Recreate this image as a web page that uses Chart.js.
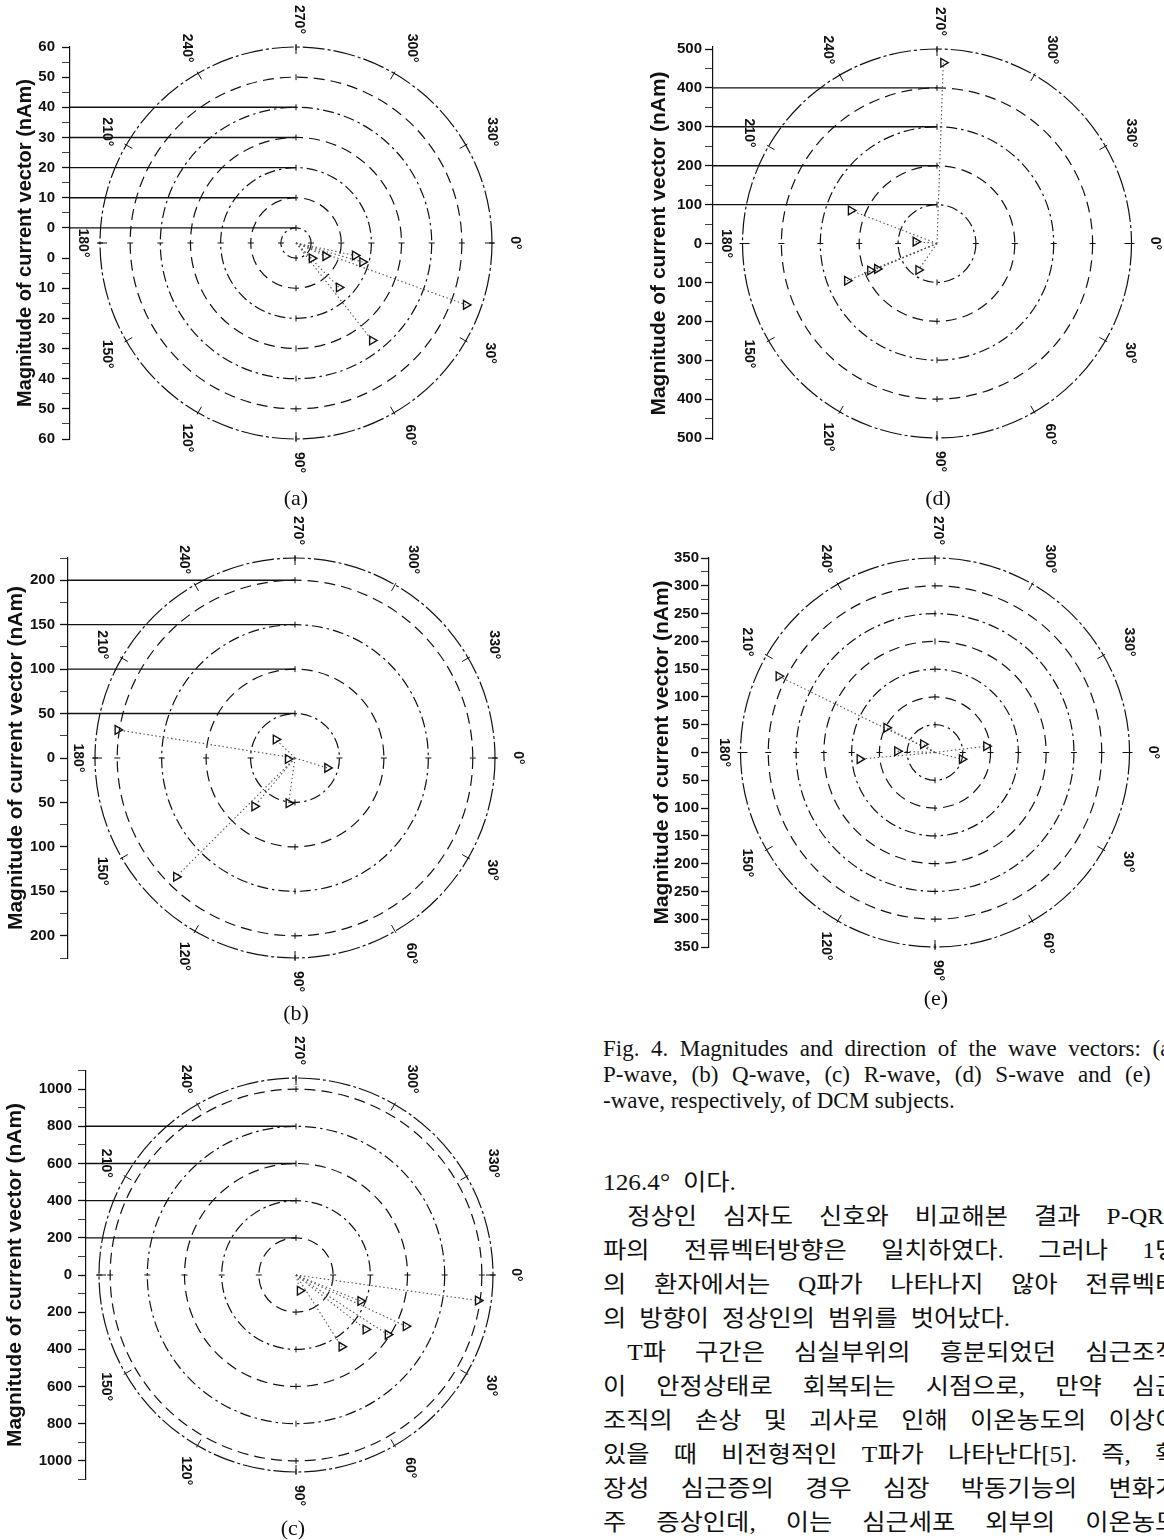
<!DOCTYPE html>
<html lang="ko">
<head>
<meta charset="utf-8">
<title>Fig. 4 current vectors</title>
<script src="https://cdn.jsdelivr.net/npm/chart.js@4"></script>
<style>
  html, body { margin: 0; padding: 0; background: #fff; }
  body { position: relative; width: 1164px; height: 1540px; overflow: hidden; }
  canvas { position: absolute; }
  .sub { position: absolute; width: 60px; margin-left: -30px; text-align: center;
         font: 22px "Liberation Serif", serif; color: #111; line-height: 24px; }
  .txt { position: absolute; left: 603px; color: #111; line-height: 33.5px; white-space: nowrap; }
  .cap div { width: 575px; }
  .cap { font: 23px "Liberation Serif", serif; }
  .kor { font: 23px "Liberation Serif", "Noto Sans CJK KR", sans-serif; word-spacing: 6px;
         transform: scaleX(1.1); transform-origin: 0 0; }
  .kor div { width: 523px; }
  .j { text-align: justify; text-align-last: justify; }
  .ind { text-indent: 22px; }
</style>
</head>
<body>
<canvas id="ca"></canvas>
<canvas id="cb"></canvas>
<canvas id="cc"></canvas>
<canvas id="cd"></canvas>
<canvas id="ce"></canvas>

<div class="sub" style="left:296px;top:486px">(a)</div>
<div class="sub" style="left:296px;top:1001px">(b)</div>
<div class="sub" style="left:293px;top:1516px">(c)</div>
<div class="sub" style="left:938px;top:486px">(d)</div>
<div class="sub" style="left:936px;top:986px">(e)</div>

<div class="txt cap" style="top:1036px">
  <div class="j">Fig. 4. Magnitudes and direction of the wave vectors: (a)</div>
  <div class="j">P-wave, (b) Q-wave, (c) R-wave, (d) S-wave and (e) T</div>
  <div>-wave, respectively, of DCM subjects.</div>
</div>

<div class="txt kor" style="top:1163px">
  <div>126.4° 이다.</div>
  <div class="j ind">정상인 심자도 신호와 비교해본 결과 P-QRS</div>
  <div class="j">파의 전류벡터방향은 일치하였다. 그러나 1명</div>
  <div class="j">의 환자에서는 Q파가 나타나지 않아 전류벡터</div>
  <div>의 방향이 정상인의 범위를 벗어났다.</div>
  <div class="j ind">T파 구간은 심실부위의 흥분되었던 심근조직</div>
  <div class="j">이 안정상태로 회복되는 시점으로, 만약 심근</div>
  <div class="j">조직의 손상 및 괴사로 인해 이온농도의 이상이</div>
  <div class="j">있을 때 비전형적인 T파가 나타난다[5]. 즉, 확</div>
  <div class="j">장성 심근증의 경우 심장 박동기능의 변화가</div>
  <div class="j">주 증상인데, 이는 심근세포 외부의 이온농도</div>
</div>

<script>
// angle (deg, clockwise from 0 at the right) and magnitude (nAm) of each vector
// (a) P-wave
const angA = [44, 24, 12, 16, 46, 20, 52];
const magA = [2.3, 5.7, 15, 17.9, 15.5, 55, 36];
// (b) Q-wave
const angB = [189, 224, 172, 17, 98, 130, 135];
const magB = [202, 30, 8, 38, 51.5, 71, 189];
// (c) R-wave
const angC = [76, 22, 38, 57.5, 33, 25, 8];
const magC = [87, 374, 476, 457, 589, 652, 989];
// (d) S-wave
const angD = [272, 201, 185, 158, 157, 157.5, 125];
const magD = [465, 237, 55, 185, 167, 250, 83];
// (e) T-wave
const angE = [206, 207, 215, 182, 175, 14, 353];
const magE = [313, 98, 26, 68, 136, 50, 93];

// radial axis labels (upper half, the lower half mirrors them)
const ticksA = [60, 50, 40, 30, 20, 10, 0];
const ticksB = [200, 150, 100, 50, 0];
const ticksC = [1000, 800, 600, 400, 200, 0];
const ticksD = [500, 400, 300, 200, 100, 0];
const ticksE = [350, 300, 250, 200, 150, 100, 50, 0];

// circles (last one is the outer border)
const ringsA = [0, 10, 20, 30, 40, 50, 60];
const ringsB = [50, 100, 150, 200, 225];
const ringsC = [200, 400, 600, 800, 1000, 1060];
const ringsD = [100, 200, 300, 400, 500];
const ringsE = [50, 100, 150, 200, 250, 300, 350];

// horizontal reference lines drawn from the axis to the centre
const guideA = [40, 30, 20, 10, 0];
const guideB = [200, 150, 100, 50];
const guideC = [800, 600, 400, 200];
const guideD = [400, 300, 200, 100];
const guideE = [];

const angleTicks = [0, 30, 60, 90, 120, 150, 180, 210, 240, 270, 300, 330];

const AXIS_TITLE = 'Magnitude of current vector (nAm)';
Chart.defaults.font.family = '"Liberation Sans", Arial, sans-serif';
Chart.defaults.color = '#111';

// rings, direction ticks and degree labels, placed with the chart's own x/y scales
const polarGrid = {
  id: 'polarGrid',
  beforeDatasetsDraw(chart, args, o) {
    const {ctx, chartArea} = chart;
    const sx = chart.scales.x, sy = chart.scales.y;
    const cx = sx.getPixelForValue(0), cy = sy.getPixelForValue(0);
    const kx = sx.getPixelForValue(1) - cx, ky = sy.getPixelForValue(1) - cy;
    const n = o.rings.length;
    ctx.save();
    ctx.strokeStyle = '#111';
    ctx.lineWidth = 1.2;
    o.rings.forEach((v, i) => {
      const r = v + o.hole, j = n - 1 - i;
      ctx.setLineDash(j === 0 ? [22, 3, 3, 3] : (j % 2 ? [11, 6] : [11, 4, 2.5, 4]));
      ctx.beginPath();
      ctx.ellipse(cx, cy, r * kx, r * ky, 0, 0, Math.PI * 2);
      ctx.stroke();
    });
    ctx.setLineDash([]);
    ctx.lineWidth = 1;
    o.rings.forEach(v => {
      const r = v + o.hole;
      [0, 90, 180, 270].forEach(a => {
        const t = a * Math.PI / 180, c = Math.cos(t), s = Math.sin(t);
        ctx.beginPath();
        ctx.moveTo(cx + c * (r * kx - 3), cy + s * (r * ky - 3));
        ctx.lineTo(cx + c * (r * kx + 3), cy + s * (r * ky + 3));
        ctx.stroke();
      });
    });
    const R = o.rings[n - 1] + o.hole;
    ctx.fillStyle = '#111';
    ctx.font = 'bold 14px "Liberation Sans", Arial, sans-serif';
    ctx.textAlign = 'center';
    ctx.textBaseline = 'middle';
    o.angles.forEach(a => {
      const t = a * Math.PI / 180, c = Math.cos(t), s = Math.sin(t);
      ctx.beginPath();
      ctx.moveTo(cx + c * (R * kx - 7), cy + s * (R * ky - 7));
      ctx.lineTo(cx + c * (R * kx + 2), cy + s * (R * ky + 2));
      ctx.stroke();
      const txt = a + '°';
      const off = 13 + Math.abs(c) * 7 + Math.abs(s) * ctx.measureText(txt).width / 2;
      const lx = cx + c * (R * kx + off) + 3, ly = cy + s * (R * ky + off);
      if (lx < chartArea.left + 6) return;   // hidden behind the axis in the source
      ctx.save();
      ctx.translate(lx, ly);
      ctx.rotate(Math.PI / 2);
      ctx.fillText(txt, 0, 0);
      ctx.restore();
    });
    ctx.restore();
  }
};

function axisTicks(labels, hole, axMax) {
  const out = [];
  labels.forEach((v, i) => {
    out.push({value: -(v + hole), main: true});
    if (v + hole > 0) out.push({value: v + hole, main: true});
    if (i > 0) {
      const m = (v + labels[i - 1]) / 2 + hole;
      out.push({value: -m, main: false}, {value: m, main: false});
    }
  });
  const step = labels[0] - labels[1];
  if (labels[0] + step / 2 <= axMax) {
    const m = labels[0] + step / 2 + hole;
    out.push({value: -m, main: false}, {value: m, main: false});
  }
  return out.sort((p, q) => p.value - q.value);
}

function makePanel(id, P, L) {
  const outer = P.rings[P.rings.length - 1];
  const k = L.outerPx / (outer + P.hole);
  const yLim = P.axMax + P.hole;
  const xMin = -(L.cx - L.axisX) / k, xMax = (L.right - L.cx) / k;
  const [bx, by, bw, bh] = L.box;
  const canvas = document.getElementById(id);
  canvas.width = bw; canvas.height = bh;
  canvas.style.left = bx + 'px'; canvas.style.top = by + 'px';

  const pts = P.ang.map((a, i) => {
    const r = P.mag[i] + P.hole, t = a * Math.PI / 180;
    return {x: r * Math.cos(t), y: r * Math.sin(t)};
  });
  const datasets = [{
    data: pts, pointStyle: 'triangle', rotation: 90, pointRadius: 5,
    borderColor: '#111', borderWidth: 1.4, backgroundColor: 'rgba(255,255,255,0)', order: 0
  }];
  pts.forEach(p => datasets.push({
    data: [{x: 0, y: 0}, p], showLine: true, pointRadius: 0,
    borderColor: '#555', borderWidth: 1.1, borderDash: [1.5, 2.5], order: 1
  }));
  P.guides.forEach(v => datasets.push({
    data: [{x: xMin, y: -(v + P.hole)}, {x: 0, y: -(v + P.hole)}], showLine: true, pointRadius: 0,
    borderColor: '#111', borderWidth: 1.4, order: 2
  }));

  new Chart(canvas, {
    type: 'scatter',
    data: {datasets},
    options: {
      responsive: false, animation: false, devicePixelRatio: 1, events: [],
      layout: {padding: {
        left: 0,
        top: L.cy - yLim * k - by,
        right: bx + bw - L.right,
        bottom: by + bh - (L.cy + yLim * k)
      }},
      plugins: {
        legend: {display: false}, tooltip: {enabled: false},
        polarGrid: {rings: P.rings, hole: P.hole, angles: angleTicks}
      },
      scales: {
        x: {type: 'linear', display: false, min: xMin, max: xMax},
        y: {
          type: 'linear', position: 'left', reverse: true, min: -yLim, max: yLim,
          afterFit: s => { s.width = L.axisX - bx; },
          afterBuildTicks: s => { s.ticks = axisTicks(P.ticks, P.hole, P.axMax); },
          ticks: {
            autoSkip: false, padding: L.tickPad, color: '#111',
            font: {size: 15, weight: 'bold'},
            callback: (v, i, ts) => ts[i].main ? String(Math.round(Math.abs(v) - P.hole)) : ''
          },
          grid: {
            drawOnChartArea: false, tickLength: 8, tickColor: '#111',
            tickWidth: c => (c.tick && c.tick.main) ? 1.3 : 0.8
          },
          border: {display: true, color: '#111', width: 1.2},
          title: {
            display: true, text: AXIS_TITLE, color: '#111',
            font: {size: L.titleSize, weight: 'bold'}, padding: {top: L.titlePad, bottom: 0}
          }
        }
      }
    },
    plugins: [polarGrid]
  });
}

makePanel('ca', {ang: angA, mag: magA, ticks: ticksA, rings: ringsA, guides: guideA, hole: 5, axMax: 60},
  {box: [0, 0, 560, 490], axisX: 70, cx: 296, cy: 243, outerPx: 196, right: 500, titlePad: 13, titleSize: 20, tickPad: 7});
makePanel('cb', {ang: angB, mag: magB, ticks: ticksB, rings: ringsB, guides: guideB, hole: 0, axMax: 225},
  {box: [0, 505, 560, 500], axisX: 68, cx: 295, cy: 758, outerPx: 200, right: 503, titlePad: 4, titleSize: 21, tickPad: 5});
makePanel('cc', {ang: angC, mag: magC, ticks: ticksC, rings: ringsC, guides: guideC, hole: 0, axMax: 1100},
  {box: [0, 1025, 560, 495], axisX: 86, cx: 296, cy: 1275, outerPx: 197, right: 500, titlePad: 3, titleSize: 21, tickPad: 6});
makePanel('cd', {ang: angD, mag: magD, ticks: ticksD, rings: ringsD, guides: guideD, hole: 0, axMax: 505},
  {box: [600, 0, 564, 490], axisX: 713, cx: 937, cy: 243.5, outerPx: 194.5, right: 1138, titlePad: 47, titleSize: 21, tickPad: 3});
makePanel('ce', {ang: angE, mag: magE, ticks: ticksE, rings: ringsE, guides: guideE, hole: 0, axMax: 350},
  {box: [600, 515, 564, 485], axisX: 709, cx: 935, cy: 752.5, outerPx: 194.5, right: 1136, titlePad: 50, titleSize: 21, tickPad: 2});
</script>
</body>
</html>
